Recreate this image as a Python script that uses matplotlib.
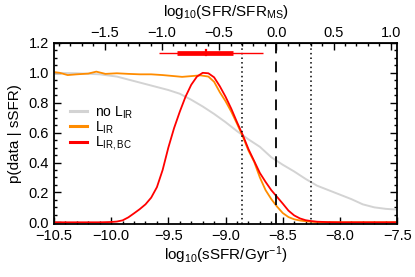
import numpy as np
import matplotlib
matplotlib.use("Agg")
import matplotlib.pyplot as plt
from matplotlib.ticker import MultipleLocator

plt.rcParams['font.family'] = ['Liberation Sans', 'DejaVu Sans']
plt.rcParams['mathtext.fontset'] = 'custom'
plt.rcParams['mathtext.rm'] = 'Liberation Sans'
plt.rcParams['mathtext.it'] = 'Liberation Sans:italic'
plt.rcParams['mathtext.default'] = 'rm'

# sSFR of the main sequence (top axis zero)
ssfr_ms = -8.556
ms_scatter = 0.3

# no L_IR
ssfr_noir = [-10.5, -10.3, -10.1, -9.95, -9.8, -9.65, -9.5, -9.4, -9.3, -9.2, -9.1,
             -9.0, -8.9, -8.8, -8.7, -8.6, -8.5, -8.4, -8.3, -8.2, -8.1, -8.0,
             -7.9, -7.8, -7.7, -7.6, -7.5]
p_noir = [1.0, 0.997, 0.99, 0.975, 0.945, 0.915, 0.885, 0.86, 0.82, 0.775, 0.725,
          0.67, 0.61, 0.555, 0.505, 0.435, 0.385, 0.34, 0.29, 0.245, 0.215, 0.185,
          0.155, 0.12, 0.1, 0.09, 0.085]

# L_IR
ssfr_ir = [-10.5, -10.45, -10.38, -10.3, -10.2, -10.13, -10.05, -9.95, -9.85, -9.75,
           -9.65, -9.55, -9.45, -9.38, -9.3, -9.22, -9.15, -9.1, -9.05, -9.0, -8.95,
           -8.9, -8.85, -8.8, -8.75, -8.7, -8.65, -8.6, -8.55, -8.5, -8.45, -8.4,
           -8.35, -8.3, -8.25, -8.15, -8.0, -7.5]
p_ir = [1.005, 1.0, 0.985, 0.99, 0.995, 1.008, 0.993, 0.997, 0.993, 0.99,
        0.99, 0.985, 0.978, 0.973, 0.978, 0.983, 0.975, 0.94, 0.87, 0.81, 0.74,
        0.66, 0.575, 0.48, 0.405, 0.3, 0.215, 0.155, 0.105, 0.062, 0.035, 0.02,
        0.012, 0.007, 0.004, 0.001, 0.0, 0.0]

# L_IR,BC
ssfr_bc = [-10.5, -10.1, -10.0, -9.95, -9.9, -9.85, -9.8, -9.75, -9.7, -9.65, -9.6,
           -9.55, -9.5, -9.45, -9.4, -9.35, -9.3, -9.25, -9.2, -9.15, -9.1, -9.05,
           -9.0, -8.95, -8.9, -8.85, -8.8, -8.75, -8.7, -8.65, -8.6, -8.55, -8.5,
           -8.45, -8.4, -8.35, -8.3, -8.25, -8.2, -8.1, -8.0, -7.5]
p_bc = [0.0, 0.0, 0.002, 0.005, 0.013, 0.033, 0.06, 0.088, 0.12, 0.165, 0.235,
        0.35, 0.5, 0.63, 0.74, 0.84, 0.92, 0.975, 1.0, 0.997, 0.97, 0.91,
        0.84, 0.76, 0.67, 0.585, 0.49, 0.41, 0.33, 0.27, 0.215, 0.17, 0.125,
        0.078, 0.046, 0.026, 0.014, 0.008, 0.004, 0.001, 0.0, 0.0]

# error bar on the best estimate
err_y = 1.135
err_center = -9.173
err_inner = [-9.427, -8.932]
err_outer = [-9.579, -8.674]

top_ticks = [-1.5, -1.0, -0.5, 0.0, 0.5, 1.0]

fig = plt.figure(figsize=(4.15, 2.77), dpi=100)
ax = fig.add_axes([0.130, 0.191, 0.827, 0.654])

ax.plot(ssfr_noir, p_noir, color='#d3d3d3', lw=1.4, label=r'no L$_{\mathregular{IR}}$')
ax.plot(ssfr_ir, p_ir, color='#ff8c00', lw=1.3, label=r'L$_{\mathregular{IR}}$')
ax.plot(ssfr_bc, p_bc, color='#ff0000', lw=1.3, label=r'L$_{\mathregular{IR,BC}}$')

ax.axvline(ssfr_ms, color='black', lw=1.3, ls=(0, (6, 4.5)))
ax.axvline(ssfr_ms - ms_scatter, color='black', lw=1.1, ls=(0, (1, 2)))
ax.axvline(ssfr_ms + ms_scatter, color='black', lw=1.1, ls=(0, (1, 2)))

ax.plot(err_outer, [err_y, err_y], color='red', lw=1.0, solid_capstyle='butt')
ax.plot(err_inner, [err_y, err_y], color='red', lw=3.4, solid_capstyle='butt')
ax.plot([err_center, err_center], [err_y - 0.015, err_y + 0.015], color='red', lw=1.6)

ax.set_xlim(-10.5, -7.5)
ax.set_ylim(-0.012, 1.2)
ax.xaxis.set_major_locator(MultipleLocator(0.5))
ax.xaxis.set_minor_locator(MultipleLocator(0.1))
ax.yaxis.set_minor_locator(MultipleLocator(0.05))
ax.set_yticks([0.0, 0.2, 0.4, 0.6, 0.8, 1.0, 1.2])
ax.set_yticklabels(['0.0', '0.2', '0.4', '0.6', '0.8', '1.0', '1.2'])
ax.tick_params(which='both', direction='in', right=True, top=False, labelsize=10.5, width=1.0)
ax.tick_params(which='major', length=5)
ax.tick_params(which='minor', length=2.5)
for s in ax.spines.values():
    s.set_linewidth(1.3)

ax.set_xlabel(r'log$_{\mathregular{10}}$(sSFR/Gyr$^{\mathregular{-1}}$)', fontsize=11, labelpad=1)
ax.set_ylabel('p(data | sSFR)', fontsize=11, labelpad=5)

top = ax.secondary_xaxis('top', functions=(lambda x: x - ssfr_ms, lambda x: x + ssfr_ms))
top.set_xticks(top_ticks)
top.set_xticklabels(['%.1f' % t if t >= 0 else '\u2212%.1f' % -t for t in top_ticks])
top.xaxis.set_minor_locator(MultipleLocator(0.1))
top.tick_params(which='both', direction='in', labelsize=10.5, width=1.0, pad=2)
top.tick_params(which='major', length=5)
top.tick_params(which='minor', length=2.5)
top.set_xlabel(r'log$_{\mathregular{10}}$(SFR/SFR$_{\mathregular{MS}}$)', fontsize=11, labelpad=7)

leg = ax.legend(loc='upper left', bbox_to_anchor=(0.018, 0.715), frameon=False,
                fontsize=10, handlelength=1.2, handletextpad=0.6, labelspacing=-0.1,
                borderaxespad=0.3)
for line in leg.get_lines():
    line.set_linewidth(2.2)

fig.savefig('out.png', dpi=100)
